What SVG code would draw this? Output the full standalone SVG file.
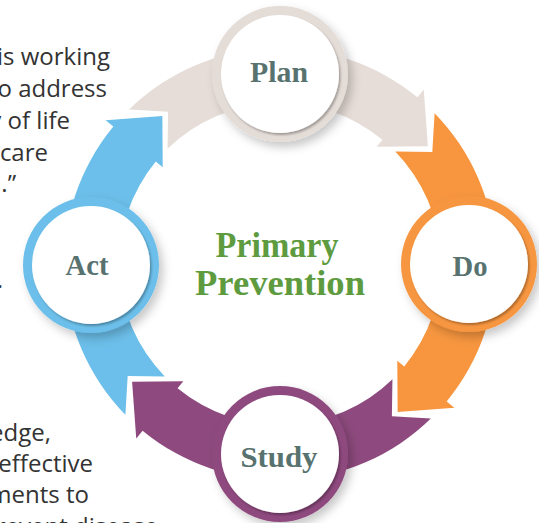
<svg xmlns="http://www.w3.org/2000/svg" width="539" height="523" viewBox="0 0 539 523">
<defs>
<path id="band" d="M434.59,113.15 A216,216 0 0 1 446.67,401.40 L454.38,407.76 L397.65,411.91 L397.28,360.69 L404.23,366.41 A161,161 0 0 0 395.23,151.56 L432.32,152.11 Z"/>
<filter id="sh" x="-30%" y="-30%" width="160%" height="160%"><feDropShadow dx="4" dy="5" stdDeviation="5" flood-color="#000" flood-opacity="0.22"/></filter>
<filter id="ish" x="-20%" y="-20%" width="140%" height="140%"><feDropShadow dx="1.5" dy="2" stdDeviation="1.2" flood-color="#000" flood-opacity="0.3"/></filter>
</defs>
<style>
.side{font-family:"Open Sans",sans-serif;font-size:24px;fill:#333333;text-anchor:end}
.lbl{font-family:"Liberation Serif",serif;font-weight:bold;font-size:29px;fill:#58736f;text-anchor:middle}
.ttl{font-family:"Liberation Serif",serif;font-weight:bold;font-size:35px;fill:#5e9b3f;text-anchor:middle}
.ring{filter:url(#sh)}
.core{fill:#ffffff;filter:url(#ish)}
</style>
<rect width="539" height="523" fill="#ffffff"/>
<g id="side-text">
<text class="side" x="110" y="65">is working</text>
<text class="side" x="107" y="97">o address</text>
<text class="side" x="70" y="129">y of life</text>
<text class="side" x="48" y="161">care</text>
<text class="side" x="16" y="192">.”</text>
<text class="side" x="3" y="288">.</text>
<text class="side" x="51" y="441">edge,</text>
<text class="side" x="93" y="472">effective</text>
<text class="side" x="89" y="503">ments to</text>
<text class="side" x="158" y="535">prevent disease</text>
</g>
<g id="connectors">
<use href="#band" fill="#e6ddd8" transform="rotate(-90 280 264)"/>
<use href="#band" fill="#f7963f"/>
<use href="#band" fill="#8e4a7e" transform="rotate(90 280 264)"/>
<use href="#band" fill="#6cbfea" transform="rotate(180 280 264)"/>
</g>
<g id="node-plan">
<circle class="ring" cx="280" cy="74" r="68" fill="#e4dcd7"/>
<circle class="core" cx="280" cy="74" r="59"/>
<text class="lbl" x="279" y="82" textLength="58" lengthAdjust="spacingAndGlyphs">Plan</text>
</g>
<g id="node-do">
<circle class="ring" cx="469" cy="264" r="68" fill="#f7963f"/>
<circle class="core" cx="469" cy="264" r="59"/>
<text class="lbl" x="470" y="276" textLength="35" lengthAdjust="spacingAndGlyphs">Do</text>
</g>
<g id="node-study">
<circle class="ring" cx="280" cy="454" r="68" fill="#8e4a7e"/>
<circle class="core" cx="280" cy="454" r="59"/>
<text class="lbl" x="279" y="467" textLength="77" lengthAdjust="spacingAndGlyphs">Study</text>
</g>
<g id="node-act">
<circle class="ring" cx="91" cy="265" r="68" fill="#6cbfea"/>
<circle class="core" cx="91" cy="265" r="59"/>
<text class="lbl" x="87" y="275" textLength="43" lengthAdjust="spacingAndGlyphs">Act</text>
</g>
<g id="title">
<text class="ttl" x="277" y="257" textLength="123" lengthAdjust="spacingAndGlyphs">Primary</text>
<text class="ttl" x="280" y="295" textLength="170" lengthAdjust="spacingAndGlyphs">Prevention</text>
</g>
</svg>
